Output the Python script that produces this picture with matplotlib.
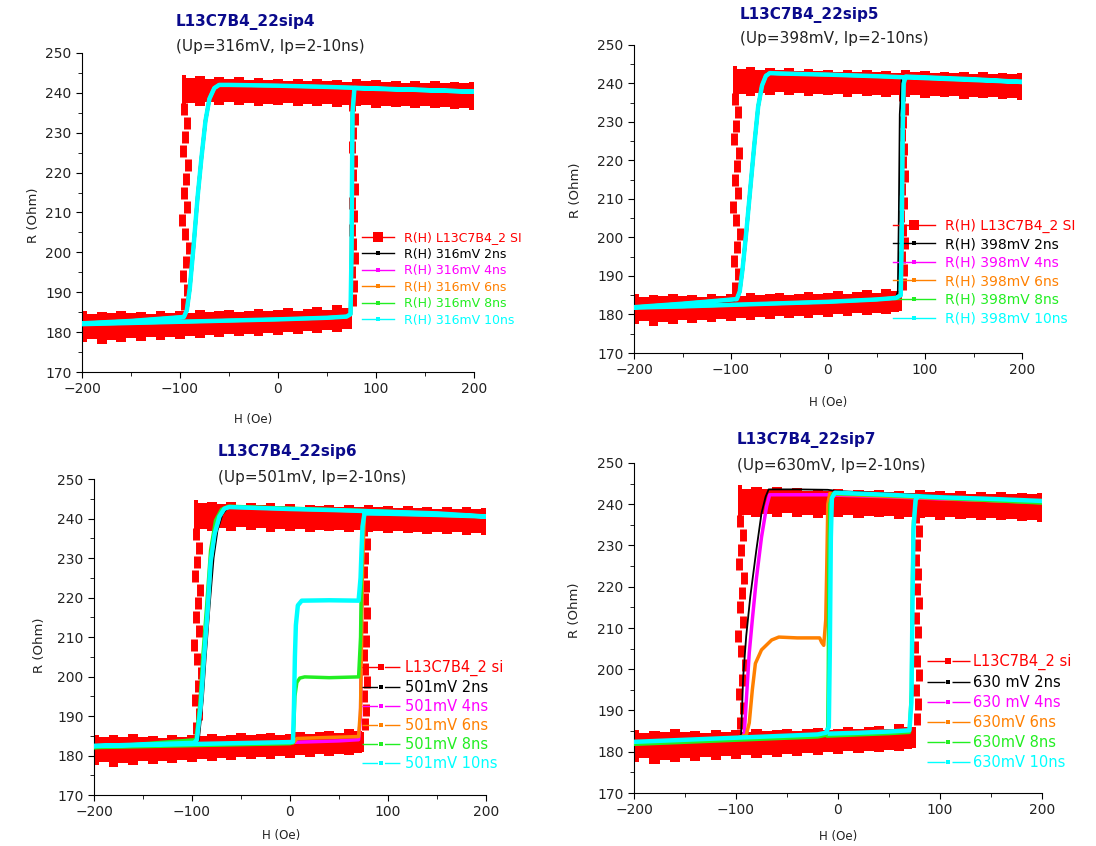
import numpy as np
import matplotlib
matplotlib.use('Agg')
import matplotlib.pyplot as plt
from matplotlib.lines import Line2D
from matplotlib.ticker import MultipleLocator

plt.rcParams['font.family'] = ['DejaVu Sans']

nan = np.nan

# curve colours: reference, 2ns, 4ns, 6ns, 8ns, 10ns
colors = ['#ff0000', '#000000', '#ff00ff', '#ff8000', '#22ee22', '#00ffff']

titles = ['L13C7B4_22sip4', 'L13C7B4_22sip5', 'L13C7B4_22sip6', 'L13C7B4_22sip7']
subtitles = ['(Up=316mV, Ip=2-10ns)', '(Up=398mV, Ip=2-10ns)',
             '(Up=501mV, Ip=2-10ns)', '(Up=630mV, Ip=2-10ns)']

labels_1 = ['R(H) L13C7B4_2 SI', 'R(H) 316mV 2ns', 'R(H) 316mV 4ns',
            'R(H) 316mV 6ns', 'R(H) 316mV 8ns', 'R(H) 316mV 10ns']
labels_2 = ['R(H) L13C7B4_2 SI', 'R(H) 398mV 2ns', 'R(H) 398mV 4ns',
            'R(H) 398mV 6ns', 'R(H) 398mV 8ns', 'R(H) 398mV 10ns']
labels_3 = ['L13C7B4_2 si', '501mV 2ns', '501mV 4ns',
            '501mV 6ns', '501mV 8ns', '501mV 10ns']
labels_4 = ['L13C7B4_2 si', '630 mV 2ns', '630 mV 4ns',
            '630mV 6ns', '630mV 8ns', '630mV 10ns']

# reference sample (red, noisy band) - same in all four panels
ref_top_H = [-98, -90, -80, -70, -60, -50, -40, -30, -20, -10, 0, 10, 20, 30, 40, 50,
             60, 70, 80, 90, 100, 110, 120, 130, 140, 150, 160, 170, 180, 190, 200]
ref_top_hi = [244.6, 243.8, 244.3, 243.6, 244.1, 243.5, 243.9, 243.3, 243.8, 243.2, 243.6,
              243.0, 243.5, 243.1, 243.4, 242.9, 243.3, 242.8, 243.4, 242.9, 243.2, 242.7,
              243.1, 242.6, 243.0, 242.5, 242.9, 242.4, 242.8, 242.5, 242.7]
ref_top_lo = [236.2, 237.4, 236.8, 237.6, 236.9, 237.8, 237.0, 237.5, 236.7, 237.3, 236.9,
              237.4, 236.6, 237.2, 236.8, 237.1, 236.5, 237.0, 236.6, 236.9, 236.3, 236.8,
              236.4, 236.7, 236.1, 236.6, 236.2, 236.5, 235.9, 236.3, 235.7]
ref_bot_H = [-200, -190, -180, -170, -160, -150, -140, -130, -120, -110, -100, -90, -80,
             -70, -60, -50, -40, -30, -20, -10, 0, 10, 20, 30, 40, 50, 60, 70, 76]
ref_bot_hi = [185.3, 184.6, 185.1, 184.8, 185.4, 184.7, 185.0, 184.5, 185.2, 184.8, 185.3,
              184.9, 185.5, 185.0, 185.2, 185.6, 185.1, 185.4, 185.8, 185.2, 185.5, 186.0,
              185.4, 185.9, 186.3, 185.6, 186.7, 186.1, 185.9]
ref_bot_lo = [177.6, 178.4, 177.1, 178.1, 177.5, 178.5, 177.8, 178.7, 178.1, 178.9, 178.3,
              179.1, 178.5, 179.3, 178.8, 179.5, 179.0, 179.6, 179.1, 179.9, 179.4, 180.1,
              179.6, 180.3, 179.9, 180.5, 180.1, 180.7, 180.9]
ref_left_H = [-96, -93, -97, -94, -91, -95, -98, -93, -96, -94, -92, -97, -95, -93, -96]
ref_left_R = [187, 190.5, 194, 197.5, 201, 204.5, 208, 211.5, 215, 218.5, 222, 225.5,
              229, 232.5, 236]
ref_right_H = [77, 78, 76, 79, 77, 75, 78, 76, 79, 77, 78, 76, 77, 79, 76]
ref_right_R = [188, 191.5, 195, 198.5, 202, 205.5, 209, 212.5, 216, 219.5, 223, 226.5,
               230, 233.5, 237]

# 316mV: all pulse lengths give the same loop
p1_H = [-200, -150, -100, -50, 0, 50, 70, 74, 75, 76, 78, 100, 150, 200, 150, 100, 50, 0,
        -50, -60, -65, -70, -74, -78, -82, -86, -90, -93, -96, -150, -200]
p1_R = [182.0, 182.3, 182.6, 182.9, 183.2, 183.6, 183.9, 184.5, 200, 235, 241.2, 241.0,
        240.7, 240.3, 240.7, 241.1, 241.5, 241.8, 242.0, 242.0, 241.2, 238.5, 233, 224,
        214, 202, 191, 185.5, 183.8, 182.8, 182.2]

# 398mV
p2_H = [-200, -150, -100, -50, 0, 50, 70, 75, 76, 77, 78, 80, 100, 150, 200, 150, 100, 50,
        0, -50, -60, -64, -68, -72, -76, -80, -84, -88, -91, -94, -150, -200]
p2_R = [181.8, 182.1, 182.5, 182.9, 183.3, 183.9, 184.3, 185, 200, 228, 240, 241.8, 241.6,
        241.1, 240.4, 240.9, 241.4, 241.9, 242.3, 242.6, 242.7, 242.0, 239.5, 234, 224,
        213, 202, 192, 186, 184, 182.8, 181.9]
p2k_H = [-200, -100, 0, 50, 70, 72, 73, 74, 76, 100, 200, 100, 0, -50, -63, -67, -71, -75,
         -79, -83, -87, -91, -94, -97, -200]
p2k_R = [181.8, 182.5, 183.3, 183.9, 184.3, 186, 205, 232, 241.5, 241.6, 240.4, 241.4,
         242.3, 242.6, 242.6, 240, 235, 226, 215, 203, 193, 187, 184.5, 183.5, 181.9]

# 501mV
p3k_H = [-200, -100, 0, 50, 70, 72, 73, 74, 76, 100, 200, 100, 0, -50, -64, -69, -74, -78,
         -82, -86, -89, -93, -96, -200]
p3k_R = [182.3, 182.8, 183.3, 183.7, 184.0, 190, 215, 235, 241.3, 241.2, 240.5, 241.7,
         242.4, 242.8, 242.6, 241, 237, 230, 218, 205, 194, 184, 183.2, 182.3]
p3m_H = [-200, -100, 0, 50, 70, 72, 73, 74, 76, 100, 150, 200, 150, 100, 50, 0, -50, -62,
         -67, -72, -77, -81, -84, -88, -91, -95, -98, -150, -200]
p3m_R = [182.3, 182.8, 183.3, 183.7, 184.0, 190, 215, 235, 241.3, 241.2, 240.9, 240.5,
         241.3, 241.7, 242.1, 242.4, 242.8, 242.9, 242.5, 240.5, 236, 229, 216, 204, 192,
         184, 183.2, 182.7, 182.3]
p3o_H = [-200, -100, 0, 4, 7, 30, 70, 72, 74, 76, 100, 200, 100, 0, -50, -62, -67, -72,
         -77, -81, -84, -88, -91, -95, -98, -200]
p3o_R = [182.2, 182.7, 183.1, 183.3, 184.3, 184.5, 184.8, 192, 228, 241.3, 241.2, 240.5,
         241.7, 242.4, 242.8, 242.9, 242.5, 240.5, 236, 229, 216, 204, 192, 184, 183.2,
         182.2]
p3g_H = [-200, -100, 0, 3, 4, 5, 7, 10, 15, 40, 70, 72, 73, 74, 76, 100, 200, 100, 0, -50,
         -63, -70, -76, -81, -85, -89, -92, -96, -200]
p3g_R = [182.0, 182.5, 183.0, 183.2, 188, 195, 198.5, 199.6, 199.9, 199.7, 199.9, 210, 228,
         238, 241.4, 241.3, 240.6, 241.8, 242.6, 243.0, 243.1, 242.3, 239.5, 232, 218, 205,
         193, 184, 182.0]
p3c_H = [-200, -100, 0, 3, 4, 5, 6, 8, 12, 40, 70, 72, 73, 74, 76, 100, 150, 200, 150, 100,
         50, 0, -50, -62, -67, -72, -77, -81, -84, -88, -91, -95, -98, -150, -200]
p3c_R = [182.4, 182.9, 183.4, 183.5, 192, 205, 213, 218, 219.2, 219.3, 219.2, 225, 232,
         238, 241.3, 241.2, 240.9, 240.5, 241.3, 241.7, 242.1, 242.4, 242.8, 242.9, 242.5,
         240.5, 236, 229, 217, 204, 193, 184, 183.2, 182.8, 182.4]

# 630mV
p4k_H = [-200, -150, -100, -95, -93, -90, -86, -80, -75, -71, -68, -40, -10, 0, 50, 100,
         150, 200]
p4k_R = [182.4, 182.9, 183.5, 184, 198, 208, 217.6, 229, 237.8, 241.8, 243.6, 243.6,
         243.5, 243.2, 242.6, 242.0, 241.4, 240.9]
p4m_H = [-200, -150, -100, -92, -90, -87, -84, -80, -75, -70, -67, -40, -8, 0, 50, 100,
         150, 200]
p4m_R = [182.2, 182.7, 183.3, 183.8, 192, 204, 212, 222, 232, 239.5, 242.3, 242.3, 242.3,
         242.2, 241.8, 241.3, 240.9, 240.5]
p4o_H = [-200, -150, -100, -90, -87, -84, -81, -75, -65, -58, -40, -18, -16, -14, -12, -11,
         -10, -8, 0, 50, 100, 150, 200]
p4o_R = [182.2, 182.7, 183.3, 184, 187, 195, 201.4, 204.7, 207.1, 207.8, 207.6, 207.6,
         206.5, 205.8, 212, 225, 240, 242.6, 242.4, 241.9, 241.4, 240.9, 240.4]
p4g_H = [-200, -150, -100, -50, -20, -12, -10, -9.5, -9, -8, -5, 50, 100, 150, 200, nan,
         -10, 20, 50, 70, 72, 73, 74, 77]
p4g_R = [181.8, 182.3, 182.8, 183.3, 183.6, 184, 186, 200, 225, 240, 242.6, 242.1, 241.5,
         240.9, 240.3, nan, 183.8, 184.1, 184.4, 184.7, 195, 222, 236, 241.5]
p4c_H = [-200, -150, -100, -50, -20, -12, -9, -8, -7, -6, -3, 50, 100, 150, 200, nan, -8,
         20, 50, 70, 72, 73, 74, 76, 78]
p4c_R = [182.4, 182.9, 183.4, 183.9, 184.2, 184.6, 186, 205, 232, 241.5, 242.8, 242.3,
         241.7, 241.3, 240.8, nan, 184.4, 184.6, 184.9, 185.2, 192, 215, 234, 241, 241.8]

W, H = 1096, 846
fig = plt.figure(figsize=(W / 100, H / 100), dpi=100)


def px_axes(l, r, t, b):
    return fig.add_axes([l / W, 1 - b / H, (r - l) / W, (b - t) / H])


def setup(ax, ylab_xy, xlab_xy):
    ax.set_xlim(-200, 200)
    ax.set_ylim(170, 250)
    ax.spines['top'].set_visible(False)
    ax.spines['right'].set_visible(False)
    ax.xaxis.set_major_locator(MultipleLocator(100))
    ax.xaxis.set_minor_locator(MultipleLocator(50))
    ax.yaxis.set_major_locator(MultipleLocator(10))
    ax.yaxis.set_minor_locator(MultipleLocator(5))
    ax.tick_params(which='major', direction='out', length=4, labelsize=10,
                   labelcolor='#222222')
    ax.tick_params(which='minor', direction='out', length=3)
    ax.set_ylabel('R (Ohm)', fontsize=9.5, color='#222222', va='center')
    ax.yaxis.set_label_coords(*ylab_xy)
    ax.set_xlabel('H (Oe)', fontsize=8.5, color='#222222', va='center')
    ax.xaxis.set_label_coords(*xlab_xy)


def draw_ref(ax):
    red = colors[0]
    ax.fill_between(ref_top_H, ref_top_lo, ref_top_hi, step='mid', color=red, lw=0, zorder=1)
    ax.fill_between(ref_bot_H, ref_bot_lo, ref_bot_hi, step='mid', color=red, lw=0, zorder=1)
    # switching parts look like a thick dashed line
    ax.plot(ref_left_H, ref_left_R, '|', color=red, ms=8, mew=5, zorder=1)
    ax.plot(ref_right_H, ref_right_R, '|', color=red, ms=8, mew=5, zorder=1)


def draw_curves(ax, curves):
    widths = [1.3, 2.5, 2.5, 2.5, 3.2]
    for i, (h, r) in enumerate(curves):
        ax.plot(h, r, color=colors[i + 1], lw=widths[i], zorder=2 + i,
                solid_joinstyle='round')


def add_legend(ax, labels, anchor, fs, dashed, hl, pad, spacing, big):
    handles = []
    # dash - marker - dash handle: one long dash each side of the marker
    seg = (hl * fs - 5) / 2
    for i, c in enumerate(colors):
        ms = big if i == 0 else 3
        ls = (0, (seg, 2.5, 0.01, 2.5)) if dashed else '-'
        handles.append(Line2D([], [], color=c, lw=1, ls=ls, marker='s', ms=ms, mew=0))
    ax.legend(handles, labels, loc='upper left', bbox_to_anchor=anchor, frameon=False,
              fontsize=fs, labelcolor='linecolor', handlelength=hl, handletextpad=pad,
              labelspacing=spacing, borderpad=0, borderaxespad=0, numpoints=1)


def add_title(x, y1, y2, i):
    fig.text(x / W, 1 - y1 / H, titles[i], fontsize=11, fontweight='bold',
             color='#0a0a8c', ha='left', va='center')
    fig.text(x / W, 1 - y2 / H, subtitles[i], fontsize=11, color='#222222',
             ha='left', va='center')


# panel 1: 316mV
ax1 = px_axes(82, 474, 53, 372)
setup(ax1, (-0.125, 0.49), (0.436, -0.15))
draw_ref(ax1)
draw_curves(ax1, [(p1_H, p1_R)] * 5)
add_legend(ax1, labels_1, (0.714, 0.442), 9, False, 2.6, 0.8, 0.28, 6.5)
add_title(176, 22, 46, 0)

# panel 2: 398mV
ax2 = px_axes(634, 1022, 45, 353)
setup(ax2, (-0.152, 0.53), (0.5, -0.162))
draw_ref(ax2)
draw_curves(ax2, [(p2k_H, p2k_R)] + [(p2_H, p2_R)] * 4)
add_legend(ax2, labels_2, (0.668, 0.437), 10, False, 3.0, 0.72, 0.33, 6.5)
add_title(740, 15, 38, 1)

# panel 3: 501mV
ax3 = px_axes(94, 486, 479, 795)
setup(ax3, (-0.14, 0.475), (0.478, -0.127))
draw_ref(ax3)
draw_curves(ax3, [(p3k_H, p3k_R), (p3m_H, p3m_R), (p3o_H, p3o_R),
                  (p3g_H, p3g_R), (p3c_H, p3c_R)])
add_legend(ax3, labels_3, (0.683, 0.427), 10.5, True, 2.6, 0.35, 0.27, 4.5)
add_title(218, 452, 477, 2)

# panel 4: 630mV
ax4 = px_axes(634, 1042, 463, 793)
setup(ax4, (-0.147, 0.555), (0.5, -0.133))
draw_ref(ax4)
draw_curves(ax4, [(p4k_H, p4k_R), (p4m_H, p4m_R), (p4o_H, p4o_R),
                  (p4g_H, p4g_R), (p4c_H, p4c_R)])
add_legend(ax4, labels_4, (0.718, 0.421), 10.5, True, 2.95, 0.2, 0.34, 4.5)
add_title(737, 440, 465, 3)

fig.savefig('out.png', dpi=100)
